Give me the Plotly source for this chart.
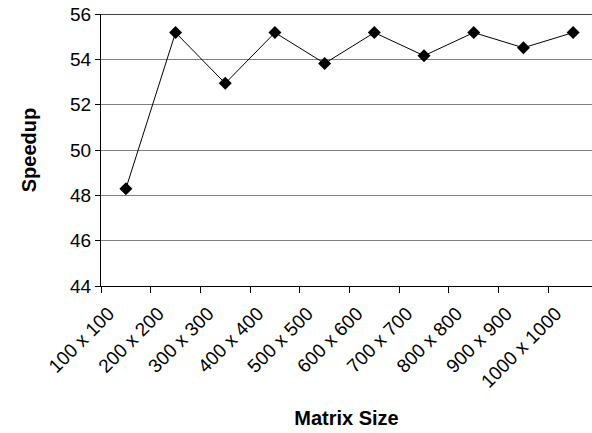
import plotly.graph_objects as go

categories = ["100 x 100", "200 x 200", "300 x 300", "400 x 400", "500 x 500",
              "600 x 600", "700 x 700", "800 x 800", "900 x 900", "1000 x 1000"]
speedup = [48.29, 55.18, 52.94, 55.18, 53.82, 55.18, 54.16, 55.18, 54.51, 55.18]
y_ticks = [44, 46, 48, 50, 52, 54, 56]

fig = go.Figure()
fig.add_trace(go.Scatter(
    x=list(range(len(categories))), y=speedup, mode="lines+markers",
    line=dict(color="black", width=1),
    marker=dict(symbol="diamond", size=10, color="black"),
    showlegend=False,
))

font = "Liberation Sans, Arial, sans-serif"
fig.update_layout(
    width=592, height=433,
    margin=dict(l=101, r=0, t=14, b=147, autoexpand=False),
    paper_bgcolor="white", plot_bgcolor="white",
    font=dict(family=font, size=19, color="black"),
    xaxis=dict(
        range=[-0.5, 9.38], automargin=False,
        tickmode="array", tickvals=list(range(len(categories))), ticktext=categories,
        tickangle=-45, showgrid=False, zeroline=False,
        showline=True, linecolor="black", linewidth=1,
        ticks="", tickfont=dict(size=19),
        ticklabelshift=-17, ticklabelstandoff=8, ticklabeloverflow="allow",
        minor=dict(tickvals=[k - 0.5 for k in range(len(categories) + 1)],
                   ticks="outside", ticklen=6, tickcolor="black", showgrid=False),
        title=dict(text="<b>Matrix Size</b>", font=dict(size=20), standoff=20),
    ),
    yaxis=dict(
        range=[44, 56], tickvals=y_ticks, automargin=False,
        showgrid=True, gridcolor="#808080", gridwidth=1, zeroline=False,
        showline=True, linecolor="black", linewidth=1,
        ticks="outside", ticklen=5, tickcolor="black",
        tickfont=dict(size=19), ticklabeloverflow="allow",
        title=dict(text="<b>Speedup</b>", font=dict(size=20), standoff=28),
    ),
    shapes=[dict(type="line", xref="paper", yref="y", x0=0, x1=1, y0=56, y1=56,
                 line=dict(color="#404040", width=2))],
)

fig.write_html("out.html",
               config={"displayModeBar": False},
               post_script="document.body.style.margin='0';document.body.style.overflow='hidden';")
